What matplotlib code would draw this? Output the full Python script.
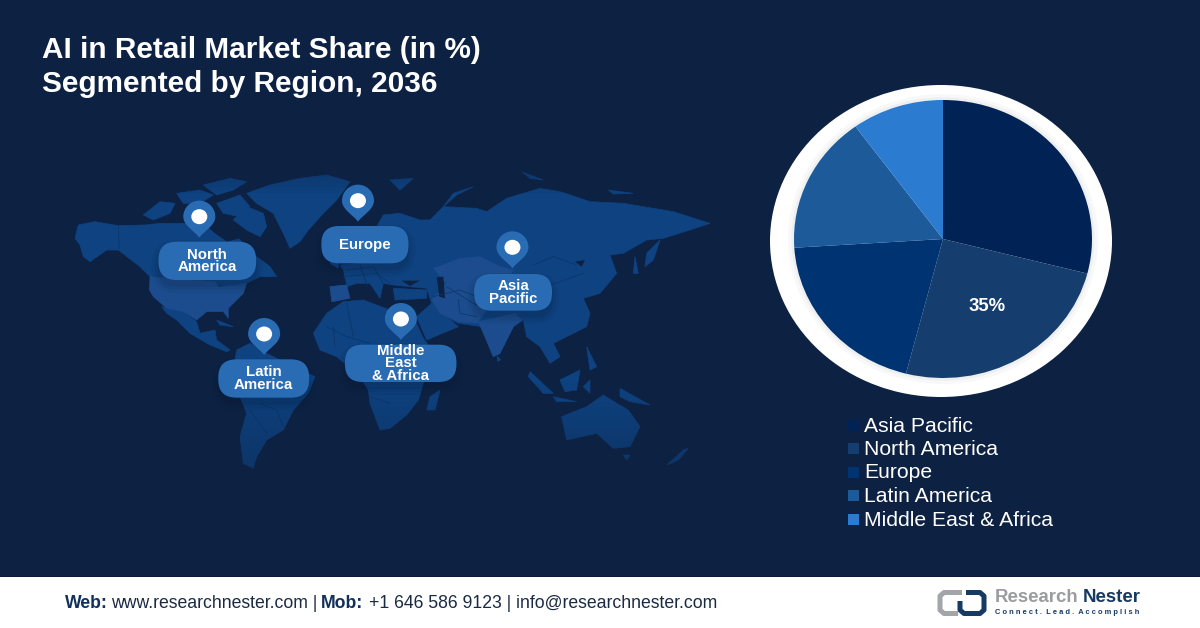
import matplotlib
matplotlib.use("Agg")
import matplotlib.pyplot as plt
import numpy as np
from matplotlib.patches import Polygon, Ellipse, FancyBboxPatch, Rectangle, PathPatch
from matplotlib.path import Path

# ---- data ----
regions = ["Asia Pacific", "North America", "Europe", "Latin America", "Middle East & Africa"]
shares = [29, 25, 20, 16, 10]
pie_colors = ["#002255", "#153e6e", "#003371", "#1c5a9a", "#2b7bd0"]
slice_labels = ["", "35%", "", "", ""]
title_lines = ["AI in Retail Market Share (in %)", "Segmented by Region, 2036"]
pin_labels = ["North\nAmerica", "Europe", "Asia\nPacific", "Middle\nEast\n& Africa", "Latin\nAmerica"]

BG = "#0d2143"
MAP = "#0e4280"
MAP_L = "#1c4c8d"
PILL = "#2a6cb3"
BORDER = "#0c3468"
FONT = "Liberation Sans"

fig = plt.figure(figsize=(12, 6.28), dpi=100, facecolor=BG)
ax = fig.add_axes([0, 0, 1, 1])
ax.set_xlim(0, 1200)
ax.set_ylim(628, 0)
ax.axis("off")

# ---- decorative world map: outlines in 3x crop coordinates of two crops ----
def L(pts):
    return [(60 + x / 3, 170 + y / 3) for x, y in pts]
def R(pts):
    return [(390 + x / 3, 170 + y / 3) for x, y in pts]

land_left = [
    # Alaska + Canada
    [(45,205),(55,165),(105,155),(175,167),(255,165),(300,160),(370,160),(440,170),(470,195),(500,215),(530,200),(560,230),(590,260),(630,290),(650,320),(600,320),(560,340),(520,350),(470,345),(465,335),(270,320),(240,290),(175,240),(140,240),(90,275),(70,260),(60,225)],
    # Arctic islands
    [(250,135),(300,95),(345,100),(330,130),(280,150)],
    [(350,70),(420,60),(460,75),(420,100),(370,100)],
    [(430,45),(510,25),(560,35),(520,60),(470,75)],
    [(470,100),(540,75),(570,110),(540,140),(490,130)],
    [(520,150),(560,110),(610,130),(620,170),(600,200),(560,180)],
    # Greenland
    [(560,70),(630,45),(720,25),(800,15),(870,35),(830,90),(790,130),(745,180),(720,215),(690,235),(670,190),(640,130),(590,100)],
    # Mexico + Central America
    [(305,410),(370,425),(410,455),(420,490),(465,480),(470,510),(510,540),(500,545),(450,525),(390,490),(350,450),(320,430)],
    # Caribbean
    [(470,450),(520,470),(480,465)],
    # South America
    [(530,540),(570,520),(620,550),(700,590),(765,620),(745,670),(700,720),(670,780),(620,810),(590,860),(580,895),(550,880),(540,800),(560,730),(540,680),(520,600)],
    # Africa
    [(760,490),(800,430),(850,395),(910,390),(990,420),(1060,440),(1090,505),(1105,525),(1090,640),(1075,690),(1040,735),(990,775),(960,780),(930,700),(925,660),(900,620),(830,560),(780,540)],
    # UK
    [(810,280),(835,255),(835,295)],
]
land_right = [
    # Eurasia
    [(-180,350),(-130,345),(-140,300),(-150,285),(-90,280),(-60,240),(-40,170),(-20,135),(30,130),(90,150),(120,150),(160,110),(260,115),(290,125),(350,85),(450,55),(510,65),(600,95),(700,100),(850,125),(960,160),(900,180),(820,205),(770,210),(700,250),(660,255),(680,310),(630,370),(580,385),(600,430),(590,470),(530,500),(490,520),(510,560),(480,580),(450,530),(410,500),(400,450),(370,470),(330,550),(310,560),(275,470),(205,460),(150,430),(125,400),(110,355),(10,345),(-20,340),(-30,385),(-60,340),(-100,340),(-130,350),(-130,385),(-170,395)],
    # Arabia
    [(125,400),(205,470),(110,510),(80,440)],
    # Turkey
    [(10,355),(110,360),(110,385),(15,390)],
    # Madagascar
    [(110,720),(120,680),(150,660),(135,720)],
    # Sakhalin, Japan
    [(735,260),(745,310),(730,310)],
    [(770,250),(810,210),(790,270),(765,290)],
    # Philippines, Indonesia, New Guinea
    [(590,530),(620,590),(600,600)],
    [(420,605),(490,670),(460,670),(415,620)],
    [(510,630),(570,600),(560,660),(525,665)],
    [(490,680),(560,695),(500,695)],
    [(690,655),(780,705),(720,695),(690,680)],
    [(580,650),(600,630),(600,670)],
    # Australia, Tasmania, New Zealand
    [(515,740),(590,710),(640,675),(680,700),(715,720),(750,770),(720,830),(670,835),(620,790),(530,810)],
    [(700,855),(720,855),(710,870)],
    [(830,885),(880,840),(895,835),(865,870)],
    # Sri Lanka, Novaya Zemlya, Svalbard, northern islands
    [(322,558),(332,570),(322,574)],
    [(160,110),(190,70),(250,50),(200,75)],
    [(0,30),(70,25),(30,60)],
    [(395,5),(460,30),(420,25)],
    [(655,60),(730,70),(670,72)],
]
light_left = [
    # United States
    [(270,320),(465,335),(475,350),(530,345),(560,340),(550,370),(525,395),(505,415),(505,445),(490,425),(440,425),(410,450),(370,425),(320,415),(280,380),(268,360)],
    # Iberia
    [(810,350),(860,345),(870,385),(815,395)],
]
light_right = [
    # Central Asia + Iran
    [(130,295),(210,265),(270,260),(330,290),(370,300),(290,420),(260,460),(205,455),(150,430),(125,390),(170,340)],
    # India
    [(265,455),(375,430),(395,450),(370,470),(330,550),(310,560),(280,490)],
]
water_left = [
    [(480,185),(520,175),(540,205),(500,215)],
]
water_right = [
    [(140,322),(160,320),(165,385),(148,380)],
    [(35,332),(90,332),(60,348)],
    [(555,275),(585,270),(575,290)],
]
border_lines = [
    L([(175,167),(178,235)]),
    L([(800,470),(860,500),(930,520)]),
    L([(820,470),(825,530)]),
    L([(860,400),(880,500)]),
    L([(600,700),(650,720),(670,770)]),
    L([(570,720),(620,790)]),
    L([(930,680),(990,700)]),
    L([(850,320),(950,310),(990,340)]),
    L([(900,285),(920,345)]),
    R([(170,350),(250,400),(290,420)]),
    R([(205,390),(210,430),(260,440)]),
    R([(130,380),(210,360),(260,380)]),
    R([(430,285),(490,260),(560,285)]),
    R([(480,345),(580,310)]),
    R([(-130,300),(-50,290),(-20,340)]),
    R([(-90,285),(-70,340)]),
]
for pts in land_left:
    ax.add_patch(Polygon(L(pts), closed=True, fc=MAP, ec=MAP, lw=0.5, zorder=1))
for pts in land_right:
    ax.add_patch(Polygon(R(pts), closed=True, fc=MAP, ec=MAP, lw=0.5, zorder=1))
for pts in light_left:
    ax.add_patch(Polygon(L(pts), closed=True, fc=MAP_L, ec=MAP_L, lw=0.4, zorder=1.2))
for pts in light_right:
    ax.add_patch(Polygon(R(pts), closed=True, fc=MAP_L, ec=MAP_L, lw=0.4, zorder=1.2))
for pts in water_left:
    ax.add_patch(Polygon(L(pts), closed=True, fc=BG, ec="none", zorder=1.3))
for pts in water_right:
    ax.add_patch(Polygon(R(pts), closed=True, fc=BG, ec="none", zorder=1.3))
for line in border_lines:
    xs, ys = zip(*line)
    ax.plot(xs, ys, color=BORDER, lw=0.5, zorder=1.35)

# fade of the map edges into the background (pixel-aligned bands, no seams)
def fade(y_top, y_bot, a_top, a_bot):
    n = int(y_bot - y_top)
    for i, a in enumerate(np.linspace(a_top, a_bot, n)):
        ax.add_patch(Rectangle((60, y_top + i), 670, 1, fc=BG, ec="none", alpha=float(a),
                               antialiased=False, zorder=1.5))
fade(380, 480, 0.0, 0.45)
ax.add_patch(Rectangle((60, 480), 670, 20, fc=BG, ec="none", alpha=0.45, antialiased=False, zorder=1.5))
fade(165, 195, 0.4, 0.0)

# ---- pins and pills (crop-coordinates of the first map crop) ----
SX, SY = 2.376, 3.0
pin_xy = [(331, 140), (708, 92), (1075, 232), (810, 447), (485, 492)]
pills = [(234, 215, 466, 330), (621, 168, 828, 280), (984, 312, 1169, 422), (677, 524, 942, 636), (376, 568, 592, 683)]

def teardrop(cx, cy):
    r, ry, rz = 16, 16, 21
    k = 0.5523
    verts = [(cx, cy + rz),
             (cx - 5, cy + rz - 7), (cx - r, cy + 9), (cx - r, cy),
             (cx - r, cy - k * ry), (cx - k * r, cy - ry), (cx, cy - ry),
             (cx + k * r, cy - ry), (cx + r, cy - k * ry), (cx + r, cy),
             (cx + r, cy + 9), (cx + 5, cy + rz - 7), (cx, cy + rz), (cx, cy + rz)]
    codes = [Path.MOVETO] + [Path.CURVE4] * 12 + [Path.CLOSEPOLY]
    return Path(verts, codes)

for (px, py), box, lab in zip(pin_xy, pills, pin_labels):
    cx, cy = 60 + px / SX, 170 + py / SY
    ax.add_patch(PathPatch(teardrop(cx, cy), fc=PILL, ec="none", zorder=3))
    ax.add_patch(Ellipse((cx, cy), 16, 15, fc="white", ec="none", zorder=4))
    x0, y0, x1, y1 = 60 + box[0] / SX, 170 + box[1] / SY, 60 + box[2] / SX, 170 + box[3] / SY
    rad = (y1 - y0) / 2 - 1
    for grow, alpha in ((7, 0.05), (4, 0.07), (1, 0.09)):
        ax.add_patch(FancyBboxPatch((x0 + rad, y0 + rad + 6), x1 - x0 - 2 * rad, y1 - y0 - 2 * rad,
                                    boxstyle=f"round,pad={rad + grow},rounding_size={rad + grow}",
                                    fc="#061226", ec="none", alpha=alpha, zorder=2.5))
    ax.add_patch(FancyBboxPatch((x0 + rad, y0 + rad), x1 - x0 - 2 * rad, y1 - y0 - 2 * rad,
                                boxstyle=f"round,pad={rad},rounding_size={rad}",
                                fc=PILL, ec="none", zorder=3))
    ax.text((x0 + x1) / 2, (y0 + y1) / 2, lab, color="white", fontsize=10.8, fontweight="bold",
            family=FONT, ha="center", va="center", linespacing=0.85, zorder=5)

# ---- title ----
for txt, y in zip(title_lines, (50, 84)):
    ax.text(42, y, txt, color="white", fontsize=21.4, fontweight="bold", family=FONT,
            ha="left", va="center", zorder=6)

# ---- white ring ----
ax.add_patch(Ellipse((941, 241), 342, 312, fc="white", ec="none", zorder=2))
for w, c in ((310, "#f8f8f9"), (303, "#eeeff1")):
    ax.add_patch(Ellipse((943, 239), w, w * 0.935, fc=c, ec="none", zorder=2.1))

# ---- pie (stretched as in the reference) ----
pax = fig.add_axes([794 / 1200, 1 - 378 / 628, 298 / 1200, 278 / 628], zorder=3)
wedges, _ = pax.pie(shares, colors=pie_colors, startangle=90, counterclock=False, radius=1,
                    wedgeprops=dict(linewidth=0))
pax.set_aspect("auto")
pax.set_xlim(-1, 1)
pax.set_ylim(-1, 1)
cum = np.cumsum([0] + shares)
for i, lab in enumerate(slice_labels):
    if lab:
        a = np.pi / 2 - 2 * np.pi * (cum[i] + shares[i] / 2) / sum(shares)
        pax.text(0.585 * np.cos(a), 0.56 * np.sin(a), lab, color="white", fontsize=13.3,
                 fontweight="bold", family=FONT, ha="center", va="center")

# ---- legend ----
for i, (name, col) in enumerate(zip(regions, pie_colors)):
    y = 425 + i * 23.5
    ax.add_patch(Rectangle((848, y - 5.5), 11, 11, fc=col, ec="none", zorder=6))
    ax.text(864, y + 1, name, color="white", fontsize=15.2, family=FONT, ha="left", va="center", zorder=6)

# ---- footer ----
ax.add_patch(Rectangle((0, 577), 1200, 51, fc="white", ec="none", zorder=7))
ax.add_patch(Rectangle((0, 575.5), 1200, 1.5, fc="#0a1a38", ec="none", zorder=7))
NAVY = "#12305c"
DARK = "#1b2a44"
parts = [("Web:", True, 65), ("www.researchnester.com |", False, 111), ("Mob:", True, 321),
         ("+1 646 586 9123 | info@researchnester.com", False, 369)]
for s, bold, x in parts:
    ax.text(x, 603, s, color=NAVY if bold else DARK, fontsize=12.7,
            fontweight="bold" if bold else "normal", family=FONT, ha="left", va="center", zorder=8)

# ---- logo ----
logo_grey = [(962, 592.5), (944, 592.5), (940, 596), (940, 610), (944, 613.5), (958, 613.5)]
logo_navy = [(966, 592.5), (980, 592.5), (984, 596), (984, 610), (980, 613.5), (964, 613.5), (960, 610), (960, 601)]
for pts, col in ((logo_grey, "#a3a5a8"), (logo_navy, "#173a62")):
    xs, ys = zip(*pts)
    ax.plot(xs, ys, color=col, lw=3.6, solid_joinstyle="round", solid_capstyle="butt", zorder=8)
ax.text(995, 598, "Research", color="#9a9c9f", fontsize=13.4, fontweight="bold", family=FONT,
        ha="left", va="center", zorder=9)
ax.text(1083, 598, "Nester", color="#173a62", fontsize=13.4, fontweight="bold", family=FONT,
        ha="left", va="center", zorder=9)
ax.text(995, 613, "C o n n e c t .  L e a d .  A c c o m p l i s h", color="#173a62", fontsize=5.4,
        fontweight="bold", family=FONT, ha="left", va="center", zorder=9)

fig.savefig("out.png", dpi=100, facecolor=BG)
